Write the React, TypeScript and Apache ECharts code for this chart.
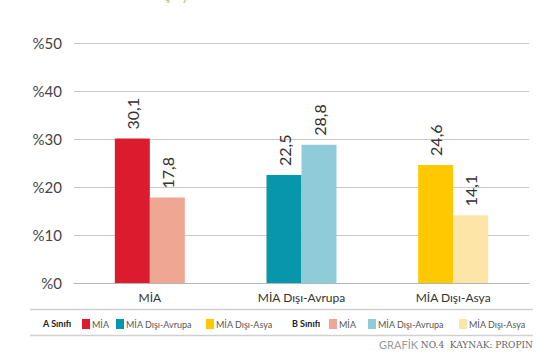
import React, { useEffect, useRef } from "react";
import * as echarts from "echarts";

const categories = ["MİA", "MİA Dışı-Avrupa", "MİA Dışı-Asya"];
const classA = [30.1, 22.5, 24.6];
const classB = [17.8, 28.8, 14.1];
const legendNames = ["MİA", "MİA Dışı-Avrupa", "MİA Dışı-Asya"];
const colorsA = ["#dc1c2e", "#0896aa", "#ffc800"];
const colorsB = ["#efa692", "#8fcbd9", "#fde5a8"];
const yTicks = [0, 10, 20, 30, 40, 50];

const FONT = "Lato, 'Open Sans', sans-serif";

export default function App() {
  const ref = useRef<HTMLDivElement>(null);
  useEffect(() => {
    if (!ref.current) return;
    const chart = echarts.init(ref.current, undefined, { renderer: "svg" });

    const mkSeries = (vals: number[], colors: string[], stack: string, prefix: string) =>
      vals.map((v, i) => ({
        name: prefix + legendNames[i],
        type: "bar",
        stack,
        barWidth: 35,
        barGap: "0%",
        data: categories.map((_, j) => (j === i ? v : null)),
        itemStyle: { color: colors[i] },
        label: {
          show: true,
          position: "top",
          rotate: 90,
          align: "left",
          verticalAlign: "middle",
          distance: 9,
          fontFamily: FONT,
          fontSize: 16,
          color: "#333",
          formatter: (p: any) => String(p.value).replace(".", ","),
        },
      }));

    const series = [...mkSeries(classA, colorsA, "A", "A "), ...mkSeries(classB, colorsB, "B", "B ")];

    const legendLefts = [82, 116, 206, 329, 368, 459];
    const legends = series.map((s, i) => ({
      left: legendLefts[i],
      top: 319,
      padding: 0,
      itemWidth: 8,
      itemHeight: 10,
      icon: "rect",
      data: [s.name],
      formatter: (n: string) => n.slice(2),
      textStyle: { fontFamily: FONT, fontSize: 9, color: "#555", padding: [0, 0, 0, -3] },
      selectedMode: false,
    }));

    chart.setOption({
      animation: false,
      grid: { left: 74, right: 26, top: 43, bottom: 72 },
      legend: legends,
      xAxis: {
        type: "category",
        data: categories,
        axisTick: { show: false },
        axisLine: { lineStyle: { color: "#b5b5b5" } },
        axisLabel: { fontFamily: FONT, fontSize: 12, color: "#333", margin: 8 },
      },
      yAxis: {
        type: "value",
        min: yTicks[0],
        max: yTicks[yTicks.length - 1],
        interval: 10,
        axisLine: { show: false },
        axisTick: { show: false },
        splitLine: { lineStyle: { color: "#c8c8c8" } },
        axisLabel: {
          fontFamily: FONT,
          fontSize: 15,
          color: "#444",
          margin: 12,
          formatter: (v: number) => "%" + v,
        },
      },
      series,
      graphic: [
        {
          type: "text",
          left: 165,
          top: -12,
          style: { text: "ş   y", fontFamily: FONT, fontSize: 14, fill: "#a8cc6a" },
        },
        {
          type: "line",
          shape: { x1: 30, y1: 309.5, x2: 533, y2: 309.5 },
          style: { stroke: "#d0d0d0", lineWidth: 1.5 },
        },
        {
          type: "line",
          shape: { x1: 30, y1: 335.5, x2: 533, y2: 335.5 },
          style: { stroke: "#d0d0d0", lineWidth: 1.5 },
        },
        {
          type: "text",
          left: 43,
          top: 319,
          style: { text: "A Sınıfı", fontFamily: FONT, fontSize: 9, fontWeight: "bold", fill: "#222" },
        },
        {
          type: "text",
          left: 292,
          top: 319,
          style: { text: "B Sınıfı", fontFamily: FONT, fontSize: 9, fontWeight: "bold", fill: "#222" },
        },
        {
          type: "text",
          right: 22,
          top: 339,
          style: {
            text: "{a|GRAFİK }{b|NO.4  KAYNAK: PROPIN}",
            rich: {
              a: { fontFamily: FONT, fontSize: 11, fill: "#9a9a9a" },
              b: { fontFamily: "'DejaVu Serif', serif", fontSize: 9, fill: "#666" },
            },
          },
        },
      ],
    });
    return () => chart.dispose();
  }, []);
  return (
    <div
      ref={ref}
      style={{ position: "fixed", left: 0, top: 0, width: 555, height: 355, background: "#fff" }}
    />
  );
}
